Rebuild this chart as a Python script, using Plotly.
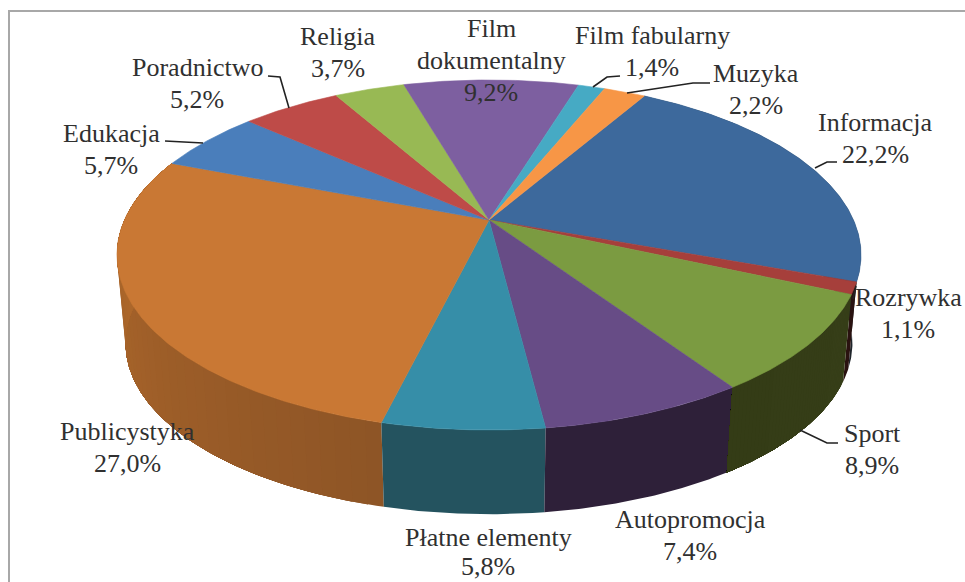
import math
import plotly.graph_objects as go

# Data, clockwise from the top-right slice
categories = ["Informacja", "Rozrywka", "Sport", "Autopromocja", "Płatne elementy",
              "Publicystyka", "Edukacja", "Poradnictwo", "Religia",
              "Film dokumentalny", "Film fabularny", "Muzyka"]
values = [22.2, 1.1, 8.9, 7.4, 5.8, 27.0, 5.7, 5.2, 3.7, 9.2, 1.4, 2.2]

# Styles
top_colors = ["#3D699C", "#A63F3B", "#7B9B41", "#674C86", "#368EA8", "#C97834",
              "#4A7EBB", "#BE4B48", "#98B954", "#7D5FA0", "#46AAC4", "#F79646"]
side_from = ["#20262C", "#2A1210", "#363E18", "#2E2039", "#24535F", "#8E5526",
             "#345A85", "#86352F", "#6C833B", "#594371", "#317888", "#AF6A30"]
side_to = ["#20262C", "#2A1210", "#343C16", "#2E2039", "#24535F", "#B56C2C",
           "#345A85", "#86352F", "#6C833B", "#594371", "#317888", "#AF6A30"]
START_DEG = 30.0
AX, AY = 489.0, 220.0      # apex on the page
W, H, K = 364.5, 168.0, 0.2  # perspective of the disc
S, D = 0.977, 89.0         # lower rim: scale and drop
TEXT = "#303030"
FONT = "Liberation Serif"


def top_pt(deg):
    a = math.radians(deg)
    x, y = math.sin(a), math.cos(a)
    q = 1 + K * y
    return AX + W * x / q, AY - H * y / q


def low_pt(deg):
    x, y = top_pt(deg)
    return AX + S * (x - AX), AY + S * (y - AY) + D


def lerp(c1, c2, t):
    a = [int(c1[i:i + 2], 16) for i in (1, 3, 5)]
    b = [int(c2[i:i + 2], 16) for i in (1, 3, 5)]
    return "rgb(%d,%d,%d)" % tuple(round(p + (q - p) * t) for p, q in zip(a, b))


total = sum(values)
edges = [START_DEG]
for v in values:
    edges.append(edges[-1] + v / total * 360)

fig = go.Figure()


def poly(pts, color, lw=0.6):
    fig.add_trace(go.Scatter(x=[p[0] for p in pts], y=[p[1] for p in pts], mode="lines",
                             fill="toself", fillcolor=color,
                             line=dict(color=color, width=lw), hoverinfo="skip",
                             showlegend=False))


def wall(a0, a1, color):
    n = max(2, int((a1 - a0) * 2))
    angs = [a0 + (a1 - a0) * j / n for j in range(n + 1)]
    pts = [top_pt(u) for u in angs] + [low_pt(u) for u in reversed(angs)]
    poly(pts + [pts[0]], color, lw=0)


# Side wall, only the slices facing the viewer. Each shade paints from its own
# angle to the slice end, so later shades overlap earlier ones without seams.
for i in [0, 5, 4, 1, 3, 2]:
    a0, a1 = edges[i], edges[i + 1]
    if side_from[i] == side_to[i]:
        wall(a0, a1, side_from[i])
    else:
        steps = 45
        for j in range(steps):
            wall(a0 + (a1 - a0) * j / steps, a1, lerp(side_from[i], side_to[i], (j + 0.5) / steps))

# Top face
for i, c in enumerate(top_colors):
    a0, a1 = edges[i], edges[i + 1]
    n = max(2, int((a1 - a0) * 2))
    pts = [(AX, AY)] + [top_pt(a0 + (a1 - a0) * j / n) for j in range(n + 1)] + [(AX, AY)]
    poly(pts, c)

# Leader lines
leaders = [
    [(165, 141), (203, 143)],
    [(268, 76), (280, 77), (289, 108)],
    [(620, 76), (607, 77), (593, 87)],
    [(710, 83), (693, 83), (627, 93)],
    [(837, 162), (827, 162), (815, 168)],
    [(838, 443), (827, 443), (800, 430)],
    [(853, 299), (856, 286)],
]
for l in leaders:
    fig.add_trace(go.Scatter(x=[p[0] for p in l], y=[p[1] for p in l], mode="lines",
                             line=dict(color="#222222", width=1.6), hoverinfo="skip",
                             showlegend=False))

# Frame
fig.add_trace(go.Scatter(x=[9, 9, None, 8, 965], y=[582, 11, None, 11, 11], mode="lines",
                         line=dict(color="#A8A8A8", width=2), hoverinfo="skip", showlegend=False))

# Labels: (centre x, y of first line) per category
label_lines = {
    "Informacja": (875, 122, ["Informacja"]),
    "Rozrywka": (908, 297, ["Rozrywka"]),
    "Sport": (872, 433, ["Sport"]),
    "Autopromocja": (690, 519, ["Autopromocja"]),
    "Płatne elementy": (488, 537, ["Płatne elementy"]),
    "Publicystyka": (127, 431, ["Publicystyka"]),
    "Edukacja": (111, 133, ["Edukacja"]),
    "Poradnictwo": (197, 67, ["Poradnictwo"]),
    "Religia": (338, 36, ["Religia"]),
    "Film dokumentalny": (491, 28, ["Film", "dokumentalny"]),
    "Film fabularny": (652, 35, ["Film fabularny"]),
    "Muzyka": (756, 73, ["Muzyka"]),
}
for name, v in zip(categories, values):
    cx, cy, lines = label_lines[name]
    lines = lines + [f"{v:.1f}%".replace(".", ",")]
    for k, txt in enumerate(lines):
        # the lowest label sits against the page edge, so its lines are a little tighter
        gap = 29 if name == "Płatne elementy" else 32
        fig.add_annotation(x=cx, y=cy + k * gap, text=txt, showarrow=False, xanchor="center",
                           yanchor="middle", font=dict(family=FONT, size=26, color=TEXT))

fig.update_layout(
    width=965, height=582, margin=dict(l=0, r=0, t=0, b=0),
    paper_bgcolor="white", plot_bgcolor="white", showlegend=False,
    xaxis=dict(range=[0, 965], visible=False, fixedrange=True),
    yaxis=dict(range=[582, 0], visible=False, fixedrange=True),
)
fig.write_html("out.html", config=dict(displayModeBar=False),
               post_script="document.body.style.margin='0';document.documentElement.style.overflow='hidden';")
